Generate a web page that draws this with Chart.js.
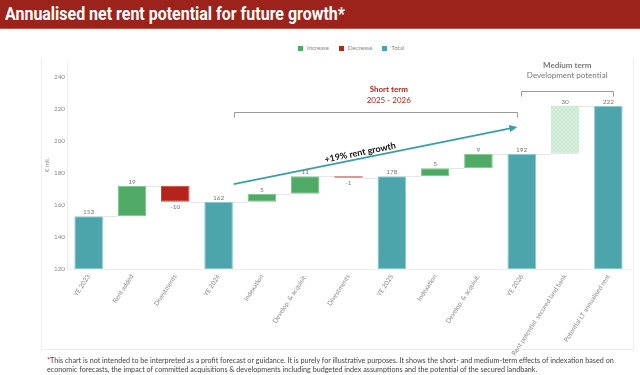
<!DOCTYPE html>
<html>
<head>
<meta charset="utf-8">
<script src="https://cdn.jsdelivr.net/npm/chart.js@4.4.1/dist/chart.umd.min.js"></script>
<style>
  body { margin: 0; width: 640px; height: 375px; overflow: hidden; background: #fff; position: relative; font-family: Lato, 'Open Sans', sans-serif; }
  #title { position: absolute; left: 0; top: 0; width: 640px; height: 28px; background: #9c231b; border-bottom: 1px solid #c0544a; }
  #title span { position: absolute; left: 5px; top: 3px; color: #fff; font: bold 18px Roboto, sans-serif; white-space: nowrap; transform-origin: left top; }
  #panel { position: absolute; left: 41px; top: 58px; width: 591px; height: 291px; border: 1px solid #eeeeee; border-top: none; }
  #legend { position: absolute; top: 44px; left: 298px; font-size: 6px; color: #888; white-space: nowrap; }
  #legend i { display: inline-block; width: 5px; height: 5px; margin-right: 4px; vertical-align: -1px; }
  #legend b { font-weight: normal; margin-right: 10px; }
  #note { position: absolute; left: 47px; top: 356px; font-size: 7.2px; line-height: 9px; color: #444; white-space: nowrap; }
  #note em { color: #b5231a; font-style: normal; }
  canvas { position: absolute; left: 0; top: 0; }
</style>
</head>
<body>
<div id="title"><span>Annualised net rent potential for future growth*</span></div>
<div id="panel"></div>
<div id="legend"><i style="background:#4faa65"></i><b>Increase</b><i style="background:#b5231a"></i><b>Decrease</b><i style="background:#4ba5aa"></i><b>Total</b></div>
<canvas id="chart" width="640" height="375"></canvas>
<div id="note"><em>*</em>This chart is not intended to be interpreted as a profit forecast or guidance. It is purely for illustrative purposes. It shows the short- and medium-term effects of indexation based on<br>economic forecasts, the impact of committed acquisitions &amp; developments including budgeted index assumptions and the potential of the secured landbank.</div>
<script>
// === DATA ===
const categories = ['YE 2023', 'Rent added', 'Divestments', 'YE 2024', 'Indexation', 'Develop. & acquisit.', 'Divestments',
    'YE 2025', 'Indexation', 'Develop. & acquisit.', 'YE 2026', 'Rent potential  secured land bank', 'Potential LT annualised rent'];
const barStart = [120, 153, 162, 120, 162, 167, 177, 120, 178, 183, 120, 192, 120];
const barEnd   = [153, 172, 172, 162, 167, 178, 178, 178, 183, 192, 192, 222, 222];
const barText  = ['153', '19', '-10', '162', '5', '11', '-1', '178', '5', '9', '192', '30', '222'];
const barKind  = ['total', 'increase', 'decrease', 'total', 'increase', 'increase', 'decrease',
    'total', 'increase', 'increase', 'total', 'potential', 'total'];
const yTicks = [120, 140, 160, 180, 200, 220, 240];

const COLORS = { increase: '#4faa65', decrease: '#b5231a', total: '#4ba5aa' };
const EDGES = { increase: '#7cc28d', decrease: '#c9463d', total: '#8cc9cc', potential: '#bfe4c9' };

// fit title into its width (the original uses a condensed face)
const t = document.querySelector('#title span');
t.style.transform = 'scaleX(' + (340 / t.getBoundingClientRect().width) + ')';

function hatch() {
    const c = document.createElement('canvas');
    c.width = 4; c.height = 4;
    const g = c.getContext('2d');
    g.fillStyle = '#dbf0e1';
    g.fillRect(0, 0, 4, 4);
    g.strokeStyle = '#c2e5cc';
    g.lineWidth = 0.8;
    g.beginPath();
    g.moveTo(0, 0); g.lineTo(4, 4);
    g.moveTo(4, 0); g.lineTo(0, 4);
    g.stroke();
    return g.createPattern(c, 'repeat');
}
const hatchFill = hatch();

const levelAfter = i => barKind[i] === 'decrease' ? barStart[i] : barEnd[i];

const waterfallExtras = {
    id: 'waterfallExtras',
    beforeDatasetsDraw(chart) {
        const { ctx, scales: { x, y } } = chart;
        const bars = chart.getDatasetMeta(0).data;
        ctx.save();
        ctx.strokeStyle = '#e6e6e6';
        ctx.lineWidth = 1;
        for (let i = 0; i < bars.length - 1; i++) {
            const py = Math.round(y.getPixelForValue(levelAfter(i))) + 0.5;
            ctx.beginPath();
            ctx.moveTo(bars[i].x + bars[i].width / 2, py);
            ctx.lineTo(bars[i + 1].x - bars[i + 1].width / 2, py);
            ctx.stroke();
        }
        ctx.restore();
    },
    afterDatasetsDraw(chart) {
        const { ctx, scales: { x, y } } = chart;
        const bars = chart.getDatasetMeta(0).data;
        ctx.save();
        // value labels
        ctx.font = '6.5px Lato';
        ctx.fillStyle = '#777';
        ctx.textAlign = 'center';
        bars.forEach((b, i) => {
            if (barKind[i] === 'decrease') {
                ctx.textBaseline = 'top';
                ctx.fillText(barText[i], b.x, y.getPixelForValue(barStart[i]) + 2);
            } else {
                ctx.textBaseline = 'bottom';
                ctx.fillText(barText[i], b.x, y.getPixelForValue(barEnd[i]) - 1);
            }
        });

        // brackets
        const bracket = (i0, i1, v) => {
            const x0 = Math.round(x.getPixelForValue(i0)) + 0.5, x1 = Math.round(x.getPixelForValue(i1)) + 0.5;
            const py = Math.round(y.getPixelForValue(v)) + 0.5;
            ctx.beginPath();
            ctx.moveTo(x0, py + 5); ctx.lineTo(x0, py); ctx.lineTo(x1, py); ctx.lineTo(x1, py + 5);
            ctx.stroke();
        };
        ctx.strokeStyle = '#999';
        ctx.lineWidth = 1;
        bracket(3.35, 9.9, 218);
        bracket(9.98, 12.1, 231.5);

        // headings
        ctx.textBaseline = 'middle';
        ctx.fillStyle = '#b5231a';
        ctx.font = 'bold 8px Lato';
        ctx.fillText('Short term', x.getPixelForValue(6.93), y.getPixelForValue(232));
        ctx.font = '8px Lato';
        ctx.fillText('2025 - 2026', x.getPixelForValue(6.93), y.getPixelForValue(225.6));
        ctx.fillStyle = '#777';
        ctx.font = 'bold 8px Lato';
        ctx.fillText('Medium term', x.getPixelForValue(11.05), y.getPixelForValue(247.5));
        ctx.font = '8px Lato';
        ctx.fillText('Development potential', x.getPixelForValue(11.05), y.getPixelForValue(241.2));

        // growth arrow
        const ax0 = x.getPixelForValue(3.35), ay0 = y.getPixelForValue(173);
        const ax1 = x.getPixelForValue(9.9), ay1 = y.getPixelForValue(208.8);
        const ang = Math.atan2(ay1 - ay0, ax1 - ax0);
        ctx.strokeStyle = '#3a9fa6';
        ctx.fillStyle = '#3a9fa6';
        ctx.lineWidth = 1.8;
        ctx.beginPath();
        ctx.moveTo(ax0, ay0);
        ctx.lineTo(ax1 - 6 * Math.cos(ang), ay1 - 6 * Math.sin(ang));
        ctx.stroke();
        ctx.save();
        ctx.translate(ax1, ay1);
        ctx.rotate(ang);
        ctx.beginPath();
        ctx.moveTo(0, 0); ctx.lineTo(-8, -3.5); ctx.lineTo(-8, 3.5); ctx.closePath();
        ctx.fill();
        ctx.restore();

        const tx = x.getPixelForValue(6.27);
        const ty = ay0 + (tx - ax0) * Math.tan(ang) - 6;
        ctx.translate(tx, ty);
        ctx.rotate(ang);
        ctx.fillStyle = '#111';
        ctx.font = 'bold 9px Lato';
        ctx.fillText('+19% rent growth', 0, 0);
        ctx.restore();
    }
};

const ctx = document.getElementById('chart').getContext('2d');
const chart = new Chart(ctx, {
    type: 'bar',
    data: {
        labels: categories,
        datasets: [{
            data: barStart.map((s, i) => [s, barEnd[i]]),
            backgroundColor: barKind.map(k => k === 'potential' ? hatchFill : COLORS[k]),
            borderColor: barKind.map(k => EDGES[k]),
            borderWidth: 1,
            borderSkipped: false,
            categoryPercentage: 1,
            barPercentage: 0.66
        }]
    },
    options: {
        responsive: false, animation: false,
        layout: { padding: { left: 41, top: 61, right: 10, bottom: 0 } },
        plugins: { legend: { display: false }, tooltip: { enabled: false } },
        scales: {
            x: {
                grid: { display: false, drawTicks: false },
                border: { color: '#eeeeee' },
                ticks: { color: '#888', font: { size: 6.5, family: 'Lato' }, minRotation: 57, maxRotation: 57, autoSkip: false, padding: 4 },
                afterFit: s => { s.height = 106; }
            },
            y: {
                min: 120, max: 250,
                grid: { display: false, drawTicks: false },
                border: { color: '#eeeeee' },
                afterBuildTicks: s => { s.ticks = yTicks.map(v => ({ value: v })); },
                ticks: { color: '#888', font: { size: 6.3, family: 'Lato' }, padding: 2 },
                title: { display: true, text: '€ mil.', color: '#888', font: { size: 6, family: 'Lato' }, padding: 2 },
                afterFit: s => { s.width = 26; }
            }
        }
    },
    plugins: [waterfallExtras]
});
</script>
</body>
</html>
